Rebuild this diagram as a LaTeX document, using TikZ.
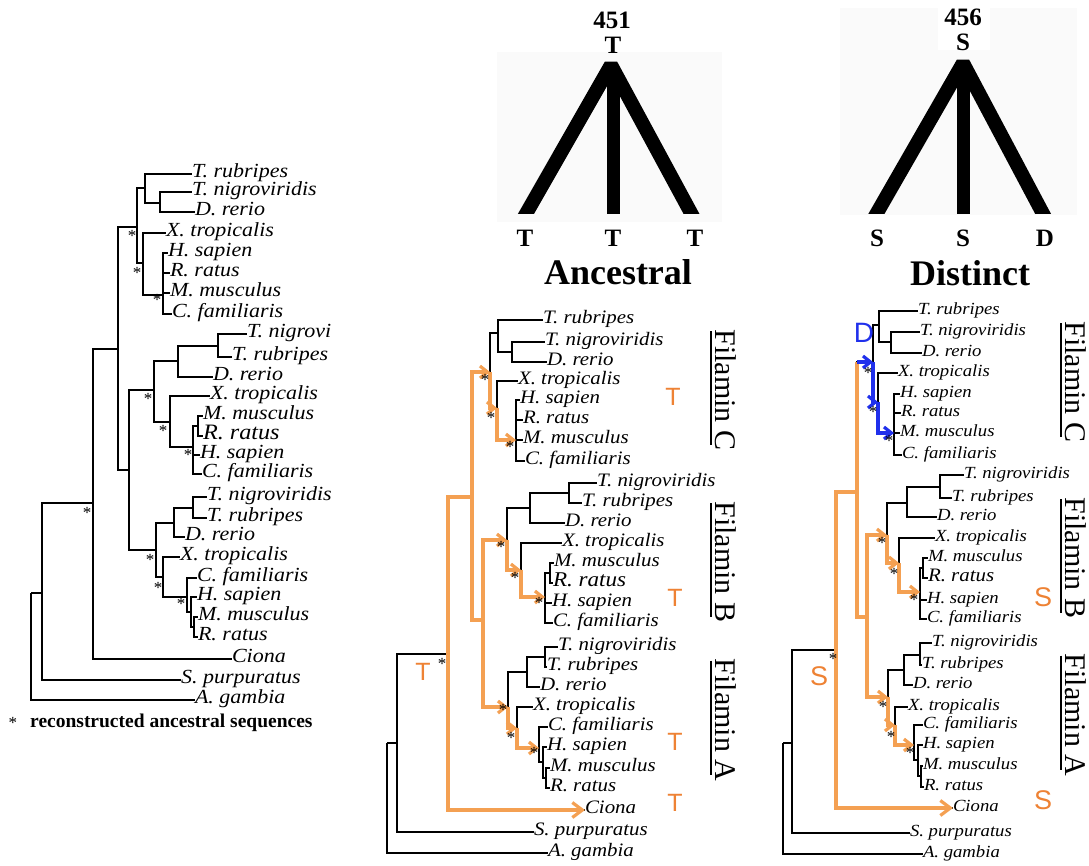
\documentclass[tikz,border=0pt]{standalone}
\usepackage{fontspec}
\usepackage{graphicx}
\setmainfont{Liberation Serif}
\newfontfamily\sansf{Liberation Sans}
\usetikzlibrary{arrows.meta}
\definecolor{org}{RGB}{244,160,82}
\definecolor{orgtxt}{RGB}{238,130,52}
\definecolor{blu}{RGB}{32,48,236}
\newcommand\tx[1]{\scalebox{1.1}[1]{#1}}
\begin{document}
\begin{tikzpicture}[x=1pt,y=-1pt,
 pt/.style={inner sep=0pt,minimum size=0pt,outer sep=0pt},
 lbl/.style={anchor=west,inner sep=0pt,outer sep=0pt,text height=0.62em,text depth=0pt},
 lblL/.style={lbl,font=\fontsize{20}{20}\selectfont\itshape},
 lblLb/.style={lbl,font=\fontsize{22}{22}\selectfont\itshape},
 lblM/.style={lbl,font=\fontsize{19}{19}\selectfont\itshape},
 lblMb/.style={lbl,font=\fontsize{21}{21}\selectfont\itshape},
 lblR/.style={lbl,font=\fontsize{17}{17}\selectfont\itshape},
 lblRb/.style={lbl,font=\fontsize{19}{19}\selectfont\itshape},
 brL/.style={line width=1.9pt},
 brM/.style={line width=1.5pt},
 brR/.style={line width=1.4pt},
 star/.style={inner sep=0pt,font=\fontsize{17}{17}\selectfont},
 orgline/.style={draw=org,line width=3.2pt},
 bluline/.style={draw=blu,line width=3.2pt},
 tip/.style={-{Straight Barb[length=7.5pt,width=12pt]}},
 bigtip/.style={-{Straight Barb[length=10pt,width=15pt]}},
 stateT/.style={inner sep=0pt,text=orgtxt,font=\sansf\fontsize{25}{25}\selectfont},
 stateS/.style={inner sep=0pt,text=orgtxt,font=\sansf\fontsize{27}{27}\selectfont},
 stateD/.style={inner sep=0pt,text=blu,font=\sansf\fontsize{28}{28}\selectfont},
 fil/.style={rotate=-90,anchor=base,inner sep=0pt,font=\fontsize{30}{30}\selectfont},
 uline/.style={line width=1.2pt},
 bold25/.style={inner sep=0pt,font=\bfseries\fontsize{25}{25}\selectfont},
 title/.style={inner sep=0pt,font=\bfseries\fontsize{36}{36}\selectfont},
 leg/.style={line width=14pt,line join=bevel},
]
\useasboundingbox (0,0) rectangle (1089,865);
\fill[white] (0,0) rectangle (1089,865);

% ---------- top schematic trees ----------
\fill[black!2] (497,52) rectangle (722,222);
\fill[black!2] (840,8) rectangle (1077,215);
\fill[white] (938,0) rectangle (990,50);
\node[bold25] (n451) at (612,20) {451};
\node[bold25] (aT) at (613,45) {T};
\begin{scope}
 \clip (470,0) rectangle (750,213);
 \coordinate (aTop) at (611,65);
 \coordinate (aLft) at (519.6,225);
 \coordinate (aRgt) at (697.5,225);
 \draw[leg] (aLft) -- (aTop) -- (aRgt);
 \draw[line width=13pt] (613,72) -- (613,225);
\end{scope}
\node[bold25] (aT1) at (525,238) {T};
\node[bold25] (aT2) at (613,238) {T};
\node[bold25] (aT3) at (695,238) {T};
\node[title] (anc) at (618,272) {Ancestral};

\node[bold25] (n456) at (963,17) {456};
\node[bold25] (dS) at (963,42) {S};
\begin{scope}
 \clip (820,0) rectangle (1089,213);
 \coordinate (dTop) at (963,63);
 \coordinate (dLft) at (870,225);
 \coordinate (dRgt) at (1049,225);
 \draw[leg] (dLft) -- (dTop) -- (dRgt);
 \draw[line width=13pt] (963,70) -- (963,225);
\end{scope}
\node[bold25] (dS1) at (877,238) {S};
\node[bold25] (dS2) at (963,238) {S};
\node[bold25] (dD3) at (1045,238) {D};
\node[title] (dis) at (970,273) {Distinct};

% ---------- LEFT tree ----------
\node[lblL] (L1) at (192,174) {\tx{T. rubripes}};
\node[lblL] (L2) at (192,192) {\tx{T. nigroviridis}};
\node[lblL] (L3) at (195,212) {\tx{D. rerio}};
\node[lblL] (L4) at (166,233) {\tx{X. tropicalis}};
\node[lblL] (L5) at (168,253) {\tx{H. sapien}};
\node[lblL] (L6) at (170,273) {\tx{R. ratus}};
\node[lblL] (L7) at (170,293) {\tx{M. musculus}};
\node[lblL] (L8) at (172,314) {\tx{C. familiaris}};
\node[lblL] (L9) at (247,334) {\tx{T. nigrovi}};
\node[lblL] (L10) at (232,357) {\tx{T. rubripes}};
\node[lblL] (L11) at (213,377) {\tx{D. rerio}};
\node[lblL] (L12) at (210,396) {\tx{X. tropicalis}};
\node[lblL] (L13) at (203,416) {\tx{M. musculus}};
\node[lblLb] (L14) at (203,436) {\tx{R. ratus}};
\node[lblL] (L15) at (200,455) {\tx{H. sapien}};
\node[lblL] (L16) at (202,474) {\tx{C. familiaris}};
\node[lblL] (L17) at (207,497) {\tx{T. nigroviridis}};
\node[lblL] (L18) at (207,518) {\tx{T. rubripes}};
\node[lblL] (L19) at (185,537) {\tx{D. rerio}};
\node[lblL] (L20) at (180,557) {\tx{X. tropicalis}};
\node[lblL] (L21) at (197,578) {\tx{C. familiaris}};
\node[lblL] (L22) at (197,597) {\tx{H. sapien}};
\node[lblL] (L23) at (198,617) {\tx{M. musculus}};
\node[lblL] (L24) at (198,637) {\tx{R. ratus}};
\node[lblL] (L25) at (232,659) {\tx{Ciona}};
\node[lblL] (L26) at (181,680) {\tx{S. purpuratus}};
\node[lblL] (L27) at (195,700) {\tx{A. gambia}};

\node[pt] (LfCt) at (160,203) {};
\node[pt] (LfC) at (145,188) {};
\node[pt] (LmC) at (163,295) {};
\node[pt] (LtC) at (143,263) {};
\node[pt] (LFC) at (137,227) {};
\node[pt] (LfBt) at (218,346) {};
\node[pt] (LfB) at (178,361) {};
\node[pt] (LmmB) at (198,426) {};
\node[pt] (LmB) at (193,447) {};
\node[pt] (LtB) at (170,422) {};
\node[pt] (LFB) at (154,390) {};
\node[pt] (LfAt) at (193,508) {};
\node[pt] (LfA) at (174,523) {};
\node[pt] (LsA2) at (194,627) {};
\node[pt] (LsA1) at (191,612) {};
\node[pt] (LmA) at (187,597) {};
\node[pt] (LtA) at (163,577) {};
\node[pt] (LFA) at (156,550) {};
\node[pt] (LFAB) at (129,470) {};
\node[pt] (Lvert) at (118,349) {};
\node[pt] (Lchord) at (93,503) {};
\node[pt] (Ldeut) at (42,593) {};
\node[pt] (Lroot) at (31,593) {};

\foreach \p/\c in {LfCt/L2,LfCt/L3,LfC/L1,LmC/L5,LmC/L6,LmC/L7,LmC/L8,LtC/L4,
  LfBt/L9,LfBt/L10,LfB/L11,LmmB/L13,LmmB/L14,LmB/L15,LmB/L16,LtB/L12,
  LfAt/L17,LfAt/L18,LfA/L19,LsA2/L23,LsA2/L24,LsA1/L22,LmA/L21,LtA/L20,
  Lchord/L25,Ldeut/L26,Lroot/L27}
  {\draw[brL] (\p.center) |- (\c.west);}
\foreach \p/\c in {LfC/LfCt,LtC/LmC,LFC/LfC,LFC/LtC,LfB/LfBt,LmB/LmmB,LtB/LmB,
  LFB/LfB,LFB/LtB,LfA/LfAt,LsA1/LsA2,LmA/LsA1,LtA/LmA,LFA/LfA,LFA/LtA,
  LFAB/LFB,LFAB/LFA,Lvert/LFC,Lvert/LFAB,Lchord/Lvert,Ldeut/Lchord,Lroot/Ldeut}
  {\draw[brL] (\p.center) |- (\c.center);}

\foreach \x/\y [count=\i] in {132/236,137/273,157/300,148/399,163/431,188/455,150/560,158/588,181/604,87/513}
  {\node[star] (Ls\i) at (\x,\y) {*};}

\node[star] (legstar) at (13,723) {*};
\node[anchor=base west,inner sep=0pt,font=\bfseries\fontsize{19.5}{19.5}\selectfont] (legtext) at (30,727) {reconstructed ancestral sequences};

% ---------- MIDDLE tree ----------
\node[lblM] (M1) at (543,320) {\tx{T. rubripes}};
\node[lblM] (M2) at (545,342) {\tx{T. nigroviridis}};
\node[lblM] (M3) at (547,362) {\tx{D. rerio}};
\node[lblM] (M4) at (518,381) {\tx{X. tropicalis}};
\node[lblM] (M5) at (520,400) {\tx{H. sapien}};
\node[lblM] (M6) at (523,420) {\tx{R. ratus}};
\node[lblM] (M7) at (523,440) {\tx{M. musculus}};
\node[lblM] (M8) at (525,461) {\tx{C. familiaris}};
\node[lblM] (M9) at (597,483) {\tx{T. nigroviridis}};
\node[lblM] (M10) at (582,503) {\tx{T. rubripes}};
\node[lblM] (M11) at (565,523) {\tx{D. rerio}};
\node[lblM] (M12) at (562,543) {\tx{X. tropicalis}};
\node[lblM] (M13) at (554,563) {\tx{M. musculus}};
\node[lblMb] (M14) at (553,583) {\tx{R. ratus}};
\node[lblM] (M15) at (552,603) {\tx{H. sapien}};
\node[lblM] (M16) at (553,623) {\tx{C. familiaris}};
\node[lblM] (M17) at (558,647) {\tx{T. nigroviridis}};
\node[lblM] (M18) at (547,667) {\tx{T. rubripes}};
\node[lblM] (M19) at (540,687) {\tx{D. rerio}};
\node[lblM] (M20) at (533,707) {\tx{X. tropicalis}};
\node[lblM] (M21) at (548,727) {\tx{C. familiaris}};
\node[lblM] (M22) at (547,747) {\tx{H. sapien}};
\node[lblM] (M23) at (550,768) {\tx{M. musculus}};
\node[lblM] (M24) at (550,788) {\tx{R. ratus}};
\node[lblM] (M25) at (585,810) {\tx{Ciona}};
\node[lblM] (M26) at (534,832) {\tx{S. purpuratus}};
\node[lblM] (M27) at (548,853) {\tx{A. gambia}};

\node[pt] (MfCt) at (512,352) {};
\node[pt] (MfC) at (498,333) {};
\node[pt] (MmC) at (516,440) {};
\node[pt] (MtC) at (497,408) {};
\node[pt] (MFC) at (490,372) {};
\node[pt] (MfBt) at (569,493) {};
\node[pt] (MfB) at (530,508) {};
\node[pt] (MmmB) at (550,573) {};
\node[pt] (MmB) at (545,597) {};
\node[pt] (MtB) at (521,570) {};
\node[pt] (MFB) at (507,540) {};
\node[pt] (MfAt) at (545,657) {};
\node[pt] (MfA) at (527,672) {};
\node[pt] (MsA2) at (546,778) {};
\node[pt] (MsA1) at (543,762) {};
\node[pt] (MmA) at (539,748) {};
\node[pt] (MtA) at (517,728) {};
\node[pt] (MFA) at (508,707) {};
\node[pt] (MFAB) at (483,620) {};
\node[pt] (Mvert) at (472,497) {};
\node[pt] (Mchord) at (448,654) {};
\node[pt] (Mdeut) at (397,743) {};
\node[pt] (Mroot) at (387,743) {};

\foreach \p/\c in {MfCt/M2,MfCt/M3,MfC/M1,MmC/M5,MmC/M6,MmC/M7,MmC/M8,MtC/M4,
  MfBt/M9,MfBt/M10,MfB/M11,MmmB/M13,MmmB/M14,MmB/M15,MmB/M16,MtB/M12,
  MfAt/M17,MfAt/M18,MfA/M19,MsA2/M23,MsA2/M24,MsA1/M22,MmA/M21,MtA/M20,
  Mchord/M25,Mdeut/M26,Mroot/M27}
  {\draw[brM] (\p.center) |- (\c.west);}
\foreach \p/\c in {MfC/MfCt,MtC/MmC,MFC/MfC,MFC/MtC,MfB/MfBt,MmB/MmmB,MtB/MmB,
  MFB/MfB,MFB/MtB,MfA/MfAt,MsA1/MsA2,MmA/MsA1,MtA/MmA,MFA/MfA,MFA/MtA,
  MFAB/MFB,MFAB/MFA,Mvert/MFC,Mvert/MFAB,Mchord/Mvert,Mdeut/Mchord,Mroot/Mdeut}
  {\draw[brM] (\p.center) |- (\c.center);}

% orange pathway (middle)
\draw[orgline] (Mchord.center) |- (Mvert.center);
\draw[orgline] (Mvert.center) |- (MFAB.center);
\foreach \p/\c in {Mvert/MFC,MFAB/MFB,MFAB/MFA,MFC/MtC,MtC/MmC,MFB/MtB,MtB/MmB,MFA/MtA,MtA/MmA}
  {\draw[orgline,tip] (\p.center) |- (\c.center);}
\draw[orgline,bigtip] (Mchord.center) |- (M25.west);

\foreach \x/\y [count=\i] in {485/380,491/418,510/447,501/547,515/578,539/603,503/710,511/738,534/753,442/664}
  {\node[star] (Ms\i) at (\x,\y) {*};}

\node[stateT] (MT1) at (673,397) {T};
\node[stateT] (MT2) at (675,598) {T};
\node[stateT] (MT3) at (675,742) {T};
\node[stateT] (MT4) at (675,803) {T};
\node[stateT] (MT5) at (423,672) {T};

\node[fil] (MFilC) at (715,390) {Filamin C};
\node[fil] (MFilB) at (715,562) {Filamin B};
\node[fil] (MFilA) at (715,720) {Filamin A};
\foreach \n in {MFilC,MFilB,MFilA}
  {\draw[uline] ([xshift=-4pt,yshift=-2pt]\n.base west) -- ([xshift=-4pt,yshift=6pt]\n.base east);}

% ---------- RIGHT tree ----------
\node[lblR] (R1) at (918,311) {\tx{T. rubripes}};
\node[lblR] (R2) at (920,332) {\tx{T. nigroviridis}};
\node[lblR] (R3) at (922,353) {\tx{D. rerio}};
\node[lblR] (R4) at (898,373) {\tx{X. tropicalis}};
\node[lblR] (R5) at (900,394) {\tx{H. sapien}};
\node[lblR] (R6) at (901,413) {\tx{R. ratus}};
\node[lblR] (R7) at (900,433) {\tx{M. musculus}};
\node[lblR] (R8) at (902,455) {\tx{C. familiaris}};
\node[lblR] (R9) at (964,475) {\tx{T. nigroviridis}};
\node[lblR] (R10) at (952,498) {\tx{T. rubripes}};
\node[lblR] (R11) at (937,517) {\tx{D. rerio}};
\node[lblR] (R12) at (935,538) {\tx{X. tropicalis}};
\node[lblR] (R13) at (928,558) {\tx{M. musculus}};
\node[lblRb] (R14) at (928,578) {\tx{R. ratus}};
\node[lblR] (R15) at (927,600) {\tx{H. sapien}};
\node[lblR] (R16) at (927,619) {\tx{C. familiaris}};
\node[lblR] (R17) at (932,643) {\tx{T. nigroviridis}};
\node[lblR] (R18) at (922,665) {\tx{T. rubripes}};
\node[lblR] (R19) at (913,685) {\tx{D. rerio}};
\node[lblR] (R20) at (908,707) {\tx{X. tropicalis}};
\node[lblR] (R21) at (923,725) {\tx{C. familiaris}};
\node[lblR] (R22) at (923,745) {\tx{H. sapien}};
\node[lblR] (R23) at (923,766) {\tx{M. musculus}};
\node[lblR] (R24) at (924,787) {\tx{R. ratus}};
\node[lblR] (R25) at (953,808) {\tx{Ciona}};
\node[lblR] (R26) at (910,833) {\tx{S. purpuratus}};
\node[lblR] (R27) at (923,854) {\tx{A. gambia}};

\node[pt] (RfCt) at (891,342) {};
\node[pt] (RfC) at (879,325) {};
\node[pt] (RmC) at (894,433) {};
\node[pt] (RtC) at (878,402) {};
\node[pt] (RFC) at (873,362) {};
\node[pt] (RfBt) at (940,487) {};
\node[pt] (RfB) at (907,503) {};
\node[pt] (RmmB) at (923,568) {};
\node[pt] (RmB) at (920,592) {};
\node[pt] (RtB) at (899,563) {};
\node[pt] (RFB) at (887,535) {};
\node[pt] (RfAt) at (920,655) {};
\node[pt] (RfA) at (904,670) {};
\node[pt] (RsA2) at (921,776) {};
\node[pt] (RsA1) at (918,760) {};
\node[pt] (RmA) at (914,745) {};
\node[pt] (RtA) at (895,725) {};
\node[pt] (RFA) at (888,697) {};
\node[pt] (RFAB) at (867,617) {};
\node[pt] (Rvert) at (857,492) {};
\node[pt] (Rchord) at (836,650) {};
\node[pt] (Rdeut) at (792,743) {};
\node[pt] (Rroot) at (783,743) {};
\coordinate (RvC) at (857,362);

\foreach \p/\c in {RfCt/R2,RfCt/R3,RfC/R1,RmC/R5,RmC/R6,RmC/R7,RmC/R8,RtC/R4,
  RfBt/R9,RfBt/R10,RfB/R11,RmmB/R13,RmmB/R14,RmB/R15,RmB/R16,RtB/R12,
  RfAt/R17,RfAt/R18,RfA/R19,RsA2/R23,RsA2/R24,RsA1/R22,RmA/R21,RtA/R20,
  Rchord/R25,Rdeut/R26,Rroot/R27}
  {\draw[brR] (\p.center) |- (\c.west);}
\foreach \p/\c in {RfC/RfCt,RtC/RmC,RFC/RfC,RFC/RtC,RfB/RfBt,RmB/RmmB,RtB/RmB,
  RFB/RfB,RFB/RtB,RfA/RfAt,RsA1/RsA2,RmA/RsA1,RtA/RmA,RFA/RfA,RFA/RtA,
  RFAB/RFB,RFAB/RFA,Rvert/RFC,Rvert/RFAB,Rchord/Rvert,Rdeut/Rchord,Rroot/Rdeut}
  {\draw[brR] (\p.center) |- (\c.center);}

% orange and blue pathways (right)
\draw[orgline] (Rchord.center) |- (Rvert.center);
\draw[orgline] (Rvert.center) |- (RFAB.center);
\draw[orgline] (Rvert.center) -- (RvC);
\foreach \p/\c in {RFAB/RFB,RFAB/RFA,RFB/RtB,RtB/RmB,RFA/RtA,RtA/RmA}
  {\draw[orgline,tip] (\p.center) |- (\c.center);}
\draw[orgline,bigtip] (Rchord.center) |- (R25.west);
\draw[bluline,tip] (RvC) -- (RFC.center);
\draw[bluline,tip] (RFC.center) |- (RtC.center);
\draw[bluline,tip] (RtC.center) |- (RmC.center);

\foreach \x/\y [count=\i] in {868/373,873/412,889/441,882/543,894/574,914/600,883/707,891/737,910/753,833/659}
  {\node[star] (Rs\i) at (\x,\y) {*};}

\node[stateS] (RS1) at (1043,597) {S};
\node[stateS] (RS2) at (1043,800) {S};
\node[stateS] (RS3) at (819,676) {S};
\node[stateD] (RD1) at (864,333) {D};

\node[fil] (RFilC) at (1065,382) {Filamin C};
\node[fil] (RFilB) at (1065,558) {Filamin B};
\node[fil] (RFilA) at (1065,715) {Filamin A};
\foreach \n in {RFilC,RFilB,RFilA}
  {\draw[uline] ([xshift=-4pt,yshift=-2pt]\n.base west) -- ([xshift=-4pt,yshift=6pt]\n.base east);}
\end{tikzpicture}
\end{document}
